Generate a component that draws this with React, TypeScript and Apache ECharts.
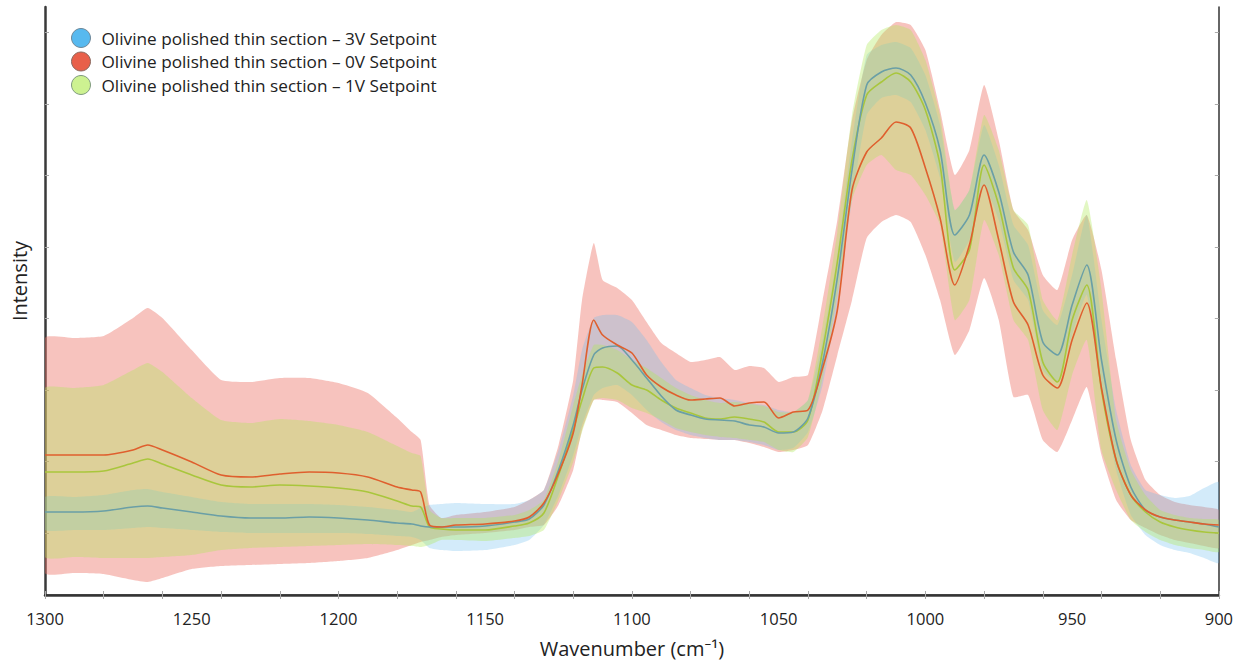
import React, { useEffect, useRef } from "react";
import * as echarts from "echarts";

// Wavenumber grid (cm-1)
const WAVENUMBERS = [
  1300, 1290, 1280, 1270, 1265, 1260, 1250, 1240, 1230, 1220, 1210, 1200, 1190, 1180,
  1175, 1172, 1169, 1165, 1160, 1150, 1140, 1135, 1130, 1125, 1120, 1117, 1113, 1110,
  1105, 1100, 1095, 1090, 1085, 1080, 1075, 1070, 1065, 1060, 1055, 1050, 1045, 1040,
  1035, 1030, 1025, 1020, 1015, 1010, 1005, 1000, 995, 990, 985, 980, 975, 970,
  965, 960, 955, 950, 945, 940, 935, 930, 925, 920, 915, 910, 905, 900,
];

// 0V setpoint (red)
const V0_UPPER = [
  257, 257, 259, 277, 287, 277, 245, 215, 213, 217, 217, 212, 202, 177,
  163, 155, 90, 77, 80, 83, 88, 95, 105, 150, 215, 295, 352, 315,
  307, 295, 273, 252, 242, 233, 235, 238, 225, 229, 227, 213, 218, 220,
  295, 375, 475, 535, 560, 573, 570, 545, 485, 420, 445, 510, 455, 385,
  365, 320, 305, 355, 380, 325, 235, 155, 115, 100, 93, 90, 88, 85,
];
const V0_MEAN = [
  140, 140, 140, 145, 150, 145, 133, 120, 118, 121, 123, 122, 118, 108,
  105, 103, 70, 68, 70, 71, 74, 78, 92, 122, 162, 210, 275, 260,
  250, 242, 220, 208, 200, 195, 196, 197, 189, 192, 193, 177, 183, 185,
  227, 285, 405, 443, 457, 473, 467, 427, 377, 310, 350, 410, 355, 293,
  270, 220, 207, 255, 292, 207, 135, 100, 85, 78, 75, 73, 71, 70,
];
const V0_LOWER = [
  22, 22, 21, 15, 13, 17, 26, 29, 30, 31, 32, 34, 37, 45,
  50, 53, 55, 58, 60, 62, 65, 68, 70, 90, 125, 165, 195, 195,
  193, 182, 170, 165, 160, 157, 156, 155, 155, 152, 148, 143, 145, 150,
  185, 240, 295, 357, 373, 380, 373, 340, 295, 240, 265, 317, 275, 198,
  200, 155, 143, 175, 208, 140, 95, 75, 67, 60, 55, 52, 49, 47,
];

// 3V setpoint (blue)
const V3_UPPER = [
  98, 98, 100, 105, 106, 103, 98, 93, 91, 91, 91, 90, 88, 85,
  83, 87, 90, 91, 92, 91, 91, 95, 105, 145, 200, 245, 277, 280,
  280, 273, 255, 233, 215, 207, 200, 197, 195, 192, 190, 185, 183, 195,
  255, 340, 455, 540, 550, 553, 547, 520, 470, 385, 405, 470, 430, 370,
  350, 285, 270, 320, 380, 275, 185, 130, 105, 100, 97, 99, 107, 113,
];
const V3_MEAN = [
  83, 83, 84, 88, 89, 87, 83, 79, 77, 77, 78, 77, 75, 72,
  71, 69, 68, 68, 68, 69, 73, 76, 90, 125, 170, 205, 240, 247,
  249, 235, 217, 199, 185, 180, 176, 175, 174, 170, 168, 162, 163, 177,
  233, 317, 425, 510, 523, 527, 520, 492, 445, 360, 380, 440, 403, 343,
  320, 253, 240, 290, 330, 235, 155, 108, 85, 78, 75, 73, 71, 68,
];
const V3_LOWER = [
  65, 65, 65, 67, 68, 67, 65, 63, 62, 62, 62, 62, 61, 59,
  58, 55, 47, 45, 44, 45, 50, 55, 70, 100, 140, 170, 200, 207,
  210, 200, 185, 173, 165, 160, 157, 155, 155, 153, 150, 145, 147, 163,
  210, 290, 395, 480, 497, 500, 493, 465, 417, 333, 355, 410, 375, 315,
  295, 225, 213, 260, 300, 203, 125, 80, 60, 50, 45, 42, 37, 32,
];

// 1V setpoint (green)
const V1_UPPER = [
  207, 207, 210, 225, 232, 223, 197, 175, 172, 176, 174, 170, 163, 149,
  142, 139, 85, 77, 77, 77, 80, 85, 95, 135, 190, 220, 250, 250,
  245, 235, 227, 217, 207, 200, 195, 192, 193, 191, 189, 183, 183, 195,
  270, 363, 480, 550, 565, 570, 565, 535, 480, 385, 405, 480, 445, 385,
  370, 295, 275, 340, 395, 305, 175, 125, 100, 85, 80, 77, 76, 75,
];
const V1_MEAN = [
  123, 123, 124, 132, 136, 131, 120, 110, 108, 110, 109, 107, 103, 94,
  89, 88, 68, 66, 65, 65, 69, 72, 82, 120, 165, 195, 227, 228,
  222, 210, 205, 195, 187, 182, 177, 176, 178, 176, 173, 163, 163, 175,
  245, 333, 435, 500, 513, 522, 513, 485, 430, 325, 345, 430, 390, 327,
  305, 233, 213, 275, 310, 205, 135, 100, 83, 73, 68, 65, 63, 62,
];
const V1_LOWER = [
  38, 38, 37, 37, 37, 38, 40, 45, 47, 48, 49, 50, 51, 50,
  49, 48, 50, 55, 55, 54, 57, 59, 65, 95, 133, 163, 195, 197,
  195, 187, 182, 175, 167, 163, 160, 158, 157, 155, 153, 145, 143, 158,
  217, 300, 395, 430, 440, 425, 420, 400, 370, 275, 295, 375, 340, 275,
  255, 185, 165, 220, 255, 145, 105, 75, 63, 55, 50, 47, 45, 43,
];

const SERIES_NAMES = [
  "Olivine polished thin section – 3V Setpoint",
  "Olivine polished thin section – 0V Setpoint",
  "Olivine polished thin section – 1V Setpoint",
];

const X_LABEL_TICKS = [900, 950, 1000, 1050, 1100, 1150, 1200, 1250, 1300];
const X_MINOR_TICKS = [
  900, 920, 940, 960, 980, 1000, 1020, 1040, 1060, 1080, 1100, 1120, 1140, 1160,
  1180, 1200, 1220, 1240, 1260, 1280, 1300,
];
const Y_TICKS = [62, 133.5, 205, 276.5, 348, 419.5, 491, 562.5];

const FONT = "'Open Sans', 'Noto Sans', sans-serif";

function pairs(vals: number[]) {
  return WAVENUMBERS.map((w, i) => [w, vals[i]]);
}

// Band drawn as one polygon through the axis scales (upper edge, then lower edge back)
function bandSeries(key: string, lower: number[], upper: number[], color: string, z: number) {
  const data = WAVENUMBERS.map((w, i) => [w, lower[i], upper[i]]);
  return {
    type: "custom",
    name: key + " band",
    data,
    encode: { x: 0, y: [1, 2] },
    clip: true,
    silent: true,
    z,
    renderItem: (params: any, api: any) => {
      if (params.dataIndex !== 0) return null;
      const top = data.map((d) => api.coord([d[0], d[2]]));
      const bottom = data.map((d) => api.coord([d[0], d[1]])).reverse();
      return {
        type: "polygon",
        shape: { points: top.concat(bottom), smooth: 0.15 },
        style: { fill: color, stroke: "none" },
      };
    },
  };
}

function meanSeries(name: string, vals: number[], color: string, z: number) {
  return {
    type: "line",
    name,
    data: pairs(vals),
    symbol: "none",
    smooth: 0.25,
    lineStyle: { color, width: 1.6 },
    itemStyle: { color },
    z,
  };
}

export default function App() {
  const ref = useRef<HTMLDivElement>(null);

  useEffect(() => {
    if (!ref.current) return;
    const chart = echarts.init(ref.current, null, { renderer: "svg" });
    const option: any = {
      animation: false,
      backgroundColor: "#ffffff",
      grid: { left: 45, right: 15, top: 7, bottom: 71, show: false },
      legend: {
        orient: "vertical",
        left: 66,
        top: 23,
        itemWidth: 19,
        itemHeight: 19,
        itemGap: 3.5,
        textStyle: { fontFamily: FONT, fontSize: 17.2, color: "#222", padding: [0, 0, 0, 6] },
        selectedMode: false,
        data: [
          { name: SERIES_NAMES[0], icon: "circle", itemStyle: { color: "#57b9ef", borderColor: "#6f8797", borderWidth: 1 } },
          { name: SERIES_NAMES[1], icon: "circle", itemStyle: { color: "#e8604a", borderColor: "#8a6a60", borderWidth: 1 } },
          { name: SERIES_NAMES[2], icon: "circle", itemStyle: { color: "#cdf291", borderColor: "#7f9a7f", borderWidth: 1 } },
        ],
      },
      xAxis: [
        {
          type: "value",
          inverse: true,
          min: 900,
          max: 1300,
          interval: 50,
          position: "bottom",
          name: "Wavenumber (cm⁻¹)",
          nameLocation: "middle",
          nameGap: 43,
          nameTextStyle: { fontFamily: FONT, fontSize: 20, color: "#222" },
          axisLine: { show: true, lineStyle: { color: "#3a3a3a", width: 2.5 } },
          axisTick: { show: true, inside: true, length: 4, customValues: X_MINOR_TICKS, lineStyle: { color: "#aaa" } },
          axisLabel: {
            show: true,
            margin: 15,
            customValues: X_LABEL_TICKS,
            formatter: (v: number) => String(v),
            fontFamily: FONT,
            fontSize: 16.5,
            color: "#222",
          },
          splitLine: { show: false },
        },
        {
          type: "value",
          inverse: true,
          min: 900,
          max: 1300,
          interval: 50,
          position: "top",
          axisLine: { show: true, lineStyle: { color: "#333", width: 1.5 } },
          axisTick: { show: true, inside: true, length: 4, customValues: X_MINOR_TICKS, lineStyle: { color: "#aaa" } },
          axisLabel: { show: false },
          splitLine: { show: false },
        },
      ],
      yAxis: [
        {
          type: "value",
          min: 0,
          max: 588,
          position: "left",
          axisLine: { show: true, lineStyle: { color: "#3a3a3a", width: 2.5 } },
          axisTick: { show: true, inside: true, length: 4, customValues: Y_TICKS, lineStyle: { color: "#aaa" } },
          axisLabel: { show: false },
          splitLine: { show: false },
        },
        {
          type: "value",
          min: 0,
          max: 588,
          position: "right",
          axisLine: { show: true, lineStyle: { color: "#333", width: 1.5 } },
          axisTick: { show: true, inside: true, length: 4, customValues: Y_TICKS, lineStyle: { color: "#aaa" } },
          axisLabel: { show: false },
          splitLine: { show: false },
        },
      ],
      graphic: [
        {
          type: "text",
          x: 19,
          y: 281,
          rotation: Math.PI / 2,
          style: {
            text: "Intensity",
            fontFamily: FONT,
            fontSize: 20,
            fill: "#222",
            align: "center",
            verticalAlign: "middle",
          },
        },
      ],
      series: [
        bandSeries("0V", V0_LOWER, V0_UPPER, "rgba(236,112,100,0.42)", 1),
        bandSeries("3V", V3_LOWER, V3_UPPER, "rgba(110,190,240,0.3)", 2),
        bandSeries("1V", V1_LOWER, V1_UPPER, "rgba(175,232,90,0.36)", 3),
        meanSeries(SERIES_NAMES[0], V3_MEAN, "#6a9fa6", 6),
        meanSeries(SERIES_NAMES[2], V1_MEAN, "#a9c63c", 5),
        meanSeries(SERIES_NAMES[1], V0_MEAN, "#df5f2e", 7),
      ],
    };
    chart.setOption(option);
    return () => chart.dispose();
  }, []);

  return (
    <div
      ref={ref}
      style={{ position: "absolute", left: 0, top: 0, width: 1236, height: 666 }}
    />
  );
}
